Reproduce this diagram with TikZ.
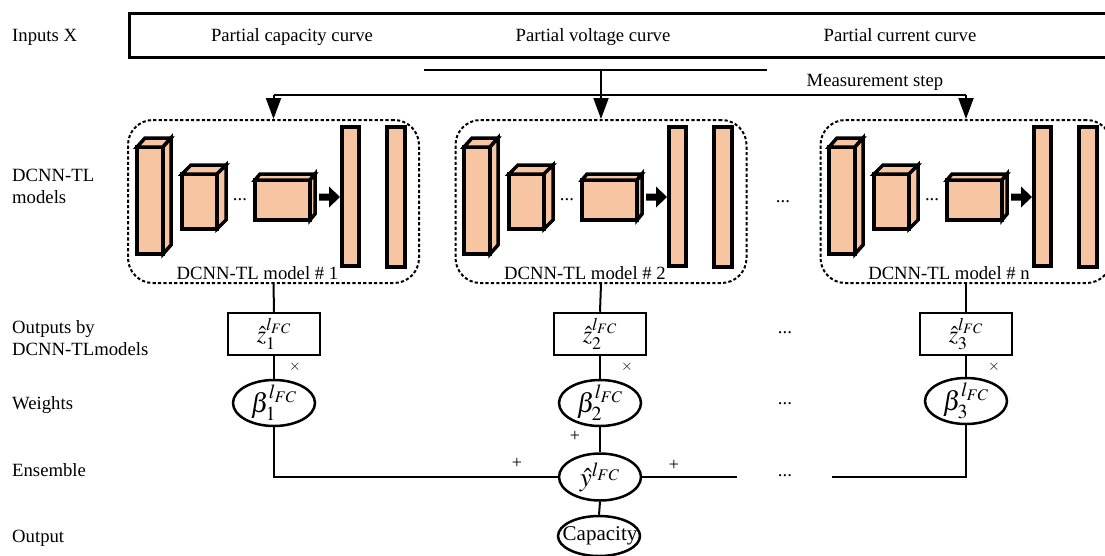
\documentclass[tikz,border=0pt]{standalone}
\usepackage{mathptmx}
\usepackage[no-math]{fontspec}
\setmainfont{Liberation Serif}
\usetikzlibrary{arrows.meta,shapes.geometric}

% light dotted-orange tone of the layer faces
\definecolor{peach}{HTML}{F7C5A2}

\tikzset{
  txt/.style={font=\fontsize{18.7}{22.4}\selectfont, inner sep=0pt},
  small/.style={font=\fontsize{15}{17}\selectfont, inner sep=0pt},
  plus/.style={font=\fontsize{18}{20}\selectfont, inner sep=0pt},
  conn/.style={line width=2pt},
  arr/.style={line width=2pt, -{Triangle[width=15pt,length=21pt]}},
  cubeface/.style={draw, line width=3.5pt, line join=miter, fill=peach},
  modelbox/.style={draw, line width=2pt, dash pattern=on 3.2pt off 2.2pt,
    rounded corners=25pt, minimum width=291pt, minimum height=163pt, inner sep=0pt},
  zbox/.style={draw, line width=2.5pt, minimum width=92pt, minimum height=42pt,
    inner sep=0pt},
  ell/.style={draw, ellipse, line width=2.5pt, inner sep=0pt},
  zmath/.style={inner sep=0pt, font=\fontsize{24}{26}\selectfont},
  bigmath/.style={inner sep=0pt, font=\fontsize{27}{30}\selectfont},
}

% a 3D layer: front face corners (#1,#2)-(#3,#4), depth offset #5 right, #6 up
\newcommand{\layerblock}[6]{%
  \draw[cubeface] (#1,#2) rectangle (#3,#4);
  \draw[cubeface] (#1,#2) -- ({#1+#5},{#2-#6}) -- ({#3+#5},{#2-#6}) -- (#3,#2) -- cycle;
  \draw[cubeface] (#3,#2) -- ({#3+#5},{#2-#6}) -- ({#3+#5},{#4-#6}) -- (#3,#4) -- cycle;
}

% convolution layers, flattening arrow and two fully connected layers
\newcommand{\cnnstack}[2]{%
  \begin{scope}[shift={(#1,0)}]
    \layerblock{9}{147}{35}{254}{8}{9}
    \layerblock{54}{174}{89}{229}{9}{9}
    \node[txt] (dots#2) at (112,200) {...};
    \layerblock{127}{180}{182}{220}{5}{6}
    \fill (191,193.5) -- (201,193.5) -- (201,186.5) -- (212,197)
          -- (201,207.5) -- (201,200.5) -- (191,200.5) -- cycle;
    \draw[cubeface] (214,127) rectangle (231,266);
    \draw[cubeface] (259,127) rectangle (277,267);
  \end{scope}}

\begin{document}
\begin{tikzpicture}[x=1pt, y=-1pt]
  \useasboundingbox (0,0) rectangle (1105,555);
  \fill[white] (0,0) rectangle (1105,555);

  % row captions
  \node[txt, anchor=base west] (capIn) at (12,41) {Inputs X};
  \node[txt, anchor=base west] (capModA) at (12,181) {DCNN-TL};
  \node[txt, anchor=base west] (capModB) at (12,203) {models};
  \node[txt, anchor=base west] (capOutA) at (12,333) {Outputs by};
  \node[txt, anchor=base west] (capOutB) at (12,355) {DCNN-TLmodels};
  \node[txt, anchor=base west] (capW) at (12,409) {Weights};
  \node[txt, anchor=base west] (capE) at (12,476) {Ensemble};
  \node[txt, anchor=base west] (capO) at (12,542) {Output};

  % inputs
  \node[draw, line width=2.5pt, minimum width=985pt, minimum height=44pt,
        inner sep=0pt, anchor=north west] (inbox) at (128,12) {};
  \node[txt, anchor=base] (inCap) at (292,41) {Partial capacity curve};
  \node[txt, anchor=base] (inVol) at (593,41) {Partial voltage curve};
  \node[txt, anchor=base] (inCur) at (900,41) {Partial current curve};

  % measurement step distribution
  \coordinate (msL) at (424,70);
  \coordinate (msR) at (767,70);
  \coordinate (tap) at (601,70);
  \coordinate (busL) at (273.5,95);
  \coordinate (busR) at (966,95);
  \node[txt, anchor=base] (msText) at (875,86) {Measurement step};

  % models
  \node[modelbox] (m1) at (273.5,201.5) {};
  \node[modelbox] (m2) at (601,201.5) {};
  \node[modelbox] (m3) at (966,201.5) {};
  \cnnstack{128}{a}
  \cnnstack{455}{b}
  \cnnstack{820}{c}
  \node[txt, anchor=base] (m1lab) at (257.5,279) {DCNN-TL model \# 1};
  \node[txt, anchor=base] (m2lab) at (585,279) {DCNN-TL model \# 2};
  \node[txt, anchor=base] (m3lab) at (949,279) {DCNN-TL model \# n};
  \node[txt] (mdots) at (783,202) {...};

  \draw[conn] (msL) -- (msR);
  \draw[arr] (tap) -- (m2.north);
  \draw[conn] (busL) -- (busR);
  \draw[arr] (busL) -- (m1.north);
  \draw[arr] (busR) -- (m3.north);

  % model outputs
  \node[zbox] (z1) at (274,334) {};
  \node[zbox] (z2) at (600,334) {};
  \node[zbox] (z3) at (966,334) {};
  \node[zmath] (z1t) at (z1) {$\hat{z}_1^{l_{FC}}$};
  \node[zmath] (z2t) at (z2) {$\hat{z}_2^{l_{FC}}$};
  \node[zmath] (z3t) at (z3) {$\hat{z}_3^{l_{FC}}$};
  \node[txt] (zdots) at (785,333) {...};

  % weights
  \node[ell, minimum width=82pt, minimum height=46pt] (b1) at (274,403) {};
  \node[ell, minimum width=82pt, minimum height=46pt] (b2) at (600,403) {};
  \node[ell, minimum width=82pt, minimum height=46pt] (b3) at (966,401) {};
  \node[bigmath] (b1t) at (b1) {$\beta_1^{l_{FC}}$};
  \node[bigmath] (b2t) at (b2) {$\beta_2^{l_{FC}}$};
  \node[bigmath] (b3t) at (b3) {$\beta_3^{l_{FC}}$};
  \node[txt] (bdots) at (785,404) {...};

  % ensemble and output
  \node[ell, minimum width=82pt, minimum height=47pt] (yh) at (600,477) {};
  \node[bigmath] (yht) at (yh) {$\hat{y}^{l_{FC}}$};
  \node[ell, minimum width=82pt, minimum height=40pt] (cap) at (599,536) {};
  \node[inner sep=0pt, font=\fontsize{21}{24}\selectfont] (capt) at (600,536) {Capacity};
  \coordinate (e1) at (737,477);
  \coordinate (e2) at (832,477);
  \node[txt] (edots) at (785,476) {...};

  % connectors
  \draw[conn] (m1.south) -- (z1.north);
  \draw[conn] (m2.south) -- (z2.north);
  \draw[conn] (m3.south) -- (z3.north);
  \draw[conn] (z1.south) -- (b1.north);
  \draw[conn] (z2.south) -- (b2.north);
  \draw[conn] (z3.south) -- (b3.north);
  \draw[conn] (b1.south) |- (yh.west);
  \draw[conn] (b2.south) -- (yh.north);
  \draw[conn] (yh.east) -- (e1);
  \draw[conn] (e2) -| (b3.south);
  \draw[conn] (yh.south) -- (cap.north);

  % operators
  \node[small] (x1) at (295,367) {$\times$};
  \node[small] (x2) at (627,367) {$\times$};
  \node[small] (x3) at (994,367) {$\times$};
  \node[plus] (p1) at (517,463) {+};
  \node[plus] (p2) at (575,436) {+};
  \node[plus] (p3) at (674,465) {+};
\end{tikzpicture}
\end{document}
